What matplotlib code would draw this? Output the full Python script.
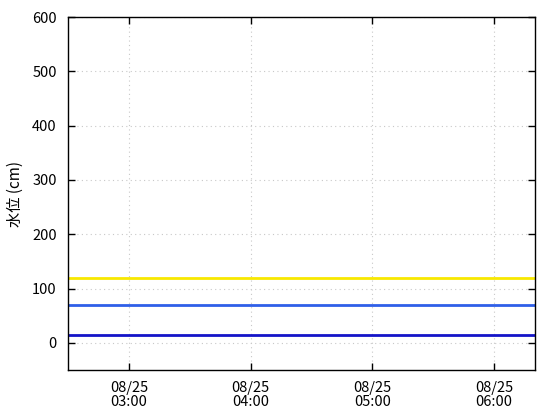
import numpy as np
import pandas as pd
import matplotlib
matplotlib.use("Agg")
import matplotlib.pyplot as plt
import matplotlib.dates as mdates

plt.rcParams['font.family'] = ['Noto Sans CJK JP', 'DejaVu Sans']

# 観測時刻 (10分間隔)
times = pd.date_range("2023-08-25 02:30", "2023-08-25 06:20", freq="10min")
n = len(times)

# 各基準水位 (cm)
level_yellow = [120] * n
level_blue = [70] * n
level_navy = [15] * n

y_ticks = [0, 100, 200, 300, 400, 500, 600]


def main():
    fig = plt.figure(figsize=(5.6, 4.2), dpi=100)
    ax = fig.add_axes([0.1214, 0.119, 0.8336, 0.8405])

    ax.plot(times, level_yellow, color="#f8e800", lw=2)
    ax.plot(times, level_blue, color="#2f5fe8", lw=2)
    ax.plot(times, level_navy, color="#1414c8", lw=2)

    ax.set_xlim(times[0], times[-1])
    ax.set_ylim(-50, 600)
    ax.set_yticks(y_ticks)
    ax.xaxis.set_major_locator(mdates.HourLocator())
    ax.xaxis.set_major_formatter(mdates.DateFormatter("%m/%d\n%H:%M"))

    ax.grid(True, linestyle=(0, (1, 3)), color="#c8c8c8", lw=0.8)
    ax.tick_params(direction="in", top=True, right=True, length=5,
                   labelsize=10.5, width=1)
    ax.tick_params(axis="y", pad=8)
    ax.tick_params(axis="x", pad=8)
    for lbl in ax.get_xticklabels():
        lbl.set_linespacing(1.0)
    for s in ax.spines.values():
        s.set_linewidth(1)
    ax.set_ylabel("水位 (cm)", fontsize=11)
    ax.yaxis.set_label_coords(-0.095, 0.5)

    fig.savefig("out.png", dpi=100)


if __name__ == '__main__':
    main()
